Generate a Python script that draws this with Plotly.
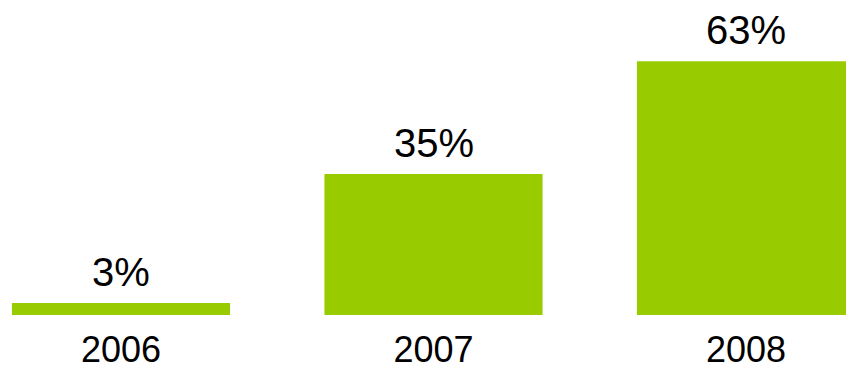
import plotly.graph_objects as go

# Share of respondents per year
years = ["2006", "2007", "2008"]
shares = [3, 35, 63]
share_labels = ["3%", "35%", "63%"]

BAR_COLOR = "#99CC00"
FONT = "Liberation Sans, Arial, sans-serif"

fig = go.Figure(
    go.Bar(
        x=years,
        y=shares,
        marker=dict(color=BAR_COLOR, line=dict(width=0)),
        width=0.698,
        hoverinfo="skip",
    )
)

# Percentage labels above each bar (category index as x position)
for idx, (val, lab) in enumerate(zip(shares, share_labels)):
    fig.add_annotation(
        x=idx, y=val, xref="x", yref="y", text=lab, showarrow=False,
        xanchor="center", yanchor="bottom", yshift=7,
        font=dict(family=FONT, size=40, color="#000000"),
    )

fig.update_layout(
    width=846,
    height=365,
    margin=dict(l=0, r=0, t=0, b=50, pad=0),
    paper_bgcolor="white",
    plot_bgcolor="white",
    showlegend=False,
    font=dict(family=FONT, color="#000000"),
    xaxis=dict(
        type="category",
        range=[-0.3872, 2.32],
        automargin=False,
        showgrid=False, zeroline=False, showline=False,
        ticks="", ticklabelstandoff=10,
        tickfont=dict(family=FONT, size=36, color="#000000"),
    ),
    yaxis=dict(
        range=[0, 78.2],
        visible=False,
        automargin=False,
        showgrid=False, zeroline=False,
    ),
)

fig.write_html("out.html")
